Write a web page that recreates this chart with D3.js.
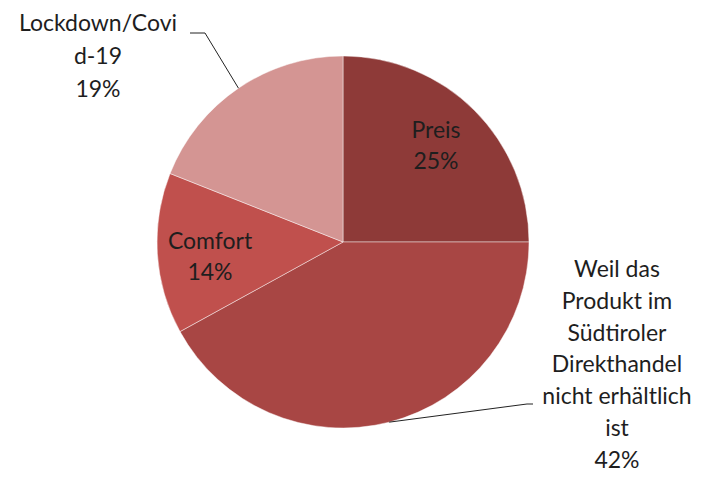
<!DOCTYPE html>
<html><head><meta charset="utf-8">
<script src="https://cdn.jsdelivr.net/npm/d3@7"></script>
<style>body{margin:0;background:#fff}svg{display:block}text{font-family:Lato,"Open Sans",sans-serif;font-size:23px;fill:#1e1e1e}</style>
</head><body><svg id="c" width="705" height="477"></svg>
<script>
const categories = ["Preis", "Weil das Produkt im Südtiroler Direkthandel nicht erhältlich ist", "Comfort", "Lockdown/Covid-19"];
const values = [25, 42, 14, 19];
const labelLines = [["Preis","25%"],["Weil das","Produkt im","Südtiroler","Direkthandel","nicht erhältlich","ist","42%"],["Comfort","14%"],["Lockdown/Covi","d-19","19%"]];
const colors = ["#8e3a38","#a84644","#c0504d","#d49593"];

const svg = d3.select("#c");
const cx = 343, cy = 242, r = 186;
const g = svg.append("g").attr("transform",`translate(${cx},${cy})`);
const pie = d3.pie().sort(null).value(d=>d);
const arcs = pie(values);
const arc = d3.arc().innerRadius(0).outerRadius(r);
g.selectAll("path").data(arcs).join("path")
  .attr("d",arc).attr("fill",(d,i)=>colors[i])
  .attr("stroke","rgba(255,255,255,0.45)").attr("stroke-width",1);

const labelPos = [[436,138],[617,277],[210,249],[98,31]];
const lh = [31,31.8,31,33];
labelLines.forEach((lines,i)=>{
  const t = svg.append("text").attr("text-anchor","middle");
  lines.forEach((l,j)=>t.append("tspan").attr("x",labelPos[i][0]).attr("y",labelPos[i][1]+j*lh[i]).text(l));
});
function edge(i, frac){const a=arcs[i].startAngle+(arcs[i].endAngle-arcs[i].startAngle)*frac;return [cx+r*Math.sin(a),cy-r*Math.cos(a)];}
const line = d3.line();
const p1 = edge(3,0.5);
svg.append("path").attr("d",line([[190,33],[205,33],p1])).attr("fill","none").attr("stroke","#222").attr("stroke-width",1);
const p2 = edge(1,0.5);
svg.append("path").attr("d",line([p2,[527,404],[533,404]])).attr("fill","none").attr("stroke","#222").attr("stroke-width",1);
</script></body></html>
